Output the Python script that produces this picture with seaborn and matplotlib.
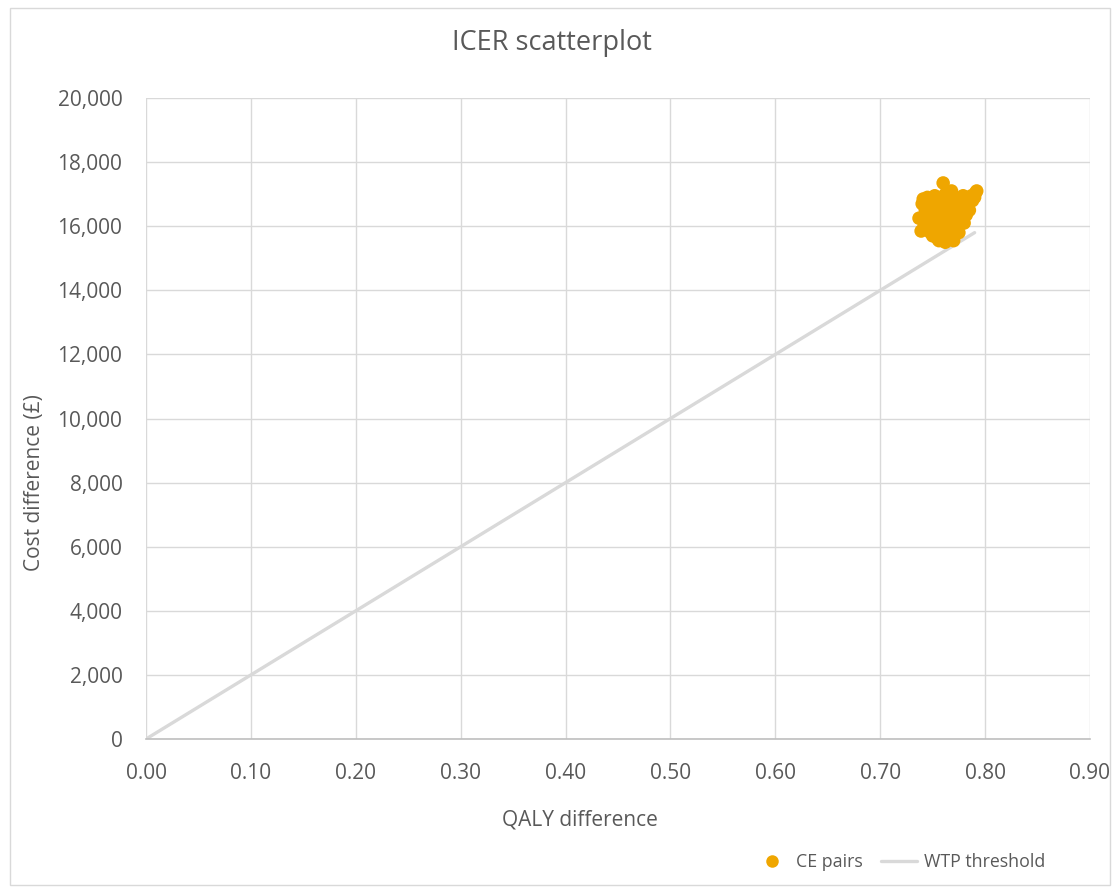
import matplotlib
matplotlib.use("Agg")
import matplotlib.pyplot as plt
import seaborn as sns
import pandas as pd
from matplotlib.patches import Rectangle
from matplotlib.lines import Line2D
from matplotlib.ticker import FuncFormatter, MultipleLocator

# Probabilistic sensitivity analysis: incremental QALYs and costs per simulation
qaly_diff = [0.760, 0.768, 0.752, 0.745, 0.740, 0.737, 0.742, 0.748, 0.755, 0.762,
             0.770, 0.775, 0.780, 0.785, 0.790, 0.792, 0.788, 0.783, 0.778, 0.772,
             0.765, 0.758, 0.750, 0.744, 0.739, 0.746, 0.753, 0.761, 0.767, 0.774,
             0.781, 0.786, 0.791, 0.776, 0.769, 0.763, 0.756, 0.749, 0.743, 0.751,
             0.759, 0.766, 0.773, 0.779, 0.784, 0.757, 0.764, 0.771, 0.754, 0.747,
             0.741, 0.762, 0.768, 0.775, 0.756, 0.760, 0.752, 0.770, 0.765, 0.758,
             0.744, 0.749, 0.755, 0.771, 0.777, 0.782, 0.787, 0.763, 0.757, 0.766,
             0.748, 0.779, 0.753, 0.769, 0.761]
cost_diff = [17350, 17100, 16950, 16900, 16700, 16250, 16000, 15800, 15600, 15500,
             15550, 15800, 16100, 16500, 16900, 17100, 16800, 16650, 16400, 16200,
             16100, 15900, 15700, 15900, 15850, 16300, 16500, 16700, 16900, 16750,
             16600, 16900, 17050, 16300, 16000, 15700, 15550, 16100, 16500, 16800,
             16600, 16400, 16200, 16850, 16650, 16250, 16500, 16700, 15950, 16600,
             16850, 17000, 16300, 16450, 16100, 16350, 16250, 15750, 16000, 16700,
             16450, 16050, 16800, 16550, 16100, 16350, 16950, 15850, 15650, 16600,
             15950, 16950, 16350, 16250, 15600]

# Willingness-to-pay threshold line (£20,000 per QALY)
wtp_qaly = [0.0, 0.79]
wtp_cost = [0, 15800]

pairs = pd.DataFrame({"qaly": qaly_diff, "cost": cost_diff})
wtp = pd.DataFrame({"qaly": wtp_qaly, "cost": wtp_cost})

sns.set_theme(style="white")
plt.rcParams["font.family"] = ["Open Sans", "DejaVu Sans"]

point_color = "#EFA600"
line_color = "#D9D9D9"
grid_color = "#D9D9D9"
text_color = "#595959"

fig = plt.figure(figsize=(11.2, 8.88), dpi=100)
ax = fig.add_axes([0.1304, 0.1678, 0.8428, 0.7218])

sns.lineplot(data=wtp, x="qaly", y="cost", ax=ax, color=line_color, linewidth=2.4,
             zorder=2, legend=False)
sns.scatterplot(data=pairs, x="qaly", y="cost", ax=ax, color=point_color, s=95,
                edgecolor="none", zorder=3, legend=False)

ax.set_xlim(0, 0.9)
ax.set_ylim(0, 20000)
ax.xaxis.set_major_locator(MultipleLocator(0.1))
ax.yaxis.set_major_locator(MultipleLocator(2000))
ax.xaxis.set_major_formatter(FuncFormatter(lambda v, p: f"{v:.2f}"))
ax.yaxis.set_major_formatter(FuncFormatter(lambda v, p: f"{v:,.0f}"))
ax.grid(True, color=grid_color, linewidth=1.0, zorder=0)
ax.set_axisbelow(True)
for side in ["left", "right", "top"]:
    ax.spines[side].set_visible(False)
ax.spines["bottom"].set_color("#BFBFBF")
ax.spines["bottom"].set_linewidth(1.2)
ax.tick_params(axis="x", length=0, labelsize=15, labelcolor=text_color, pad=17)
ax.tick_params(axis="y", length=0, labelsize=15, labelcolor=text_color, pad=17)

ax.set_xlabel("QALY difference", fontsize=15, color=text_color, va="center")
ax.xaxis.set_label_coords(0.46, -0.126)
ax.set_ylabel("Cost difference (£)", fontsize=15, color=text_color, va="center")
ax.yaxis.set_label_coords(-0.1185, 0.40)
fig.text(0.493, 0.952, "ICER scatterplot", ha="center", va="center",
         fontsize=19.5, color=text_color)

handles = [
    Line2D([0], [0], marker="o", linestyle="none", markersize=9,
           markerfacecolor=point_color, markeredgecolor="none"),
    Line2D([0], [0], color=line_color, linewidth=2.4),
]
fig.legend(handles, ["CE pairs", "WTP threshold"], ncol=2, frameon=False,
           loc="center", bbox_to_anchor=(0.803, 0.029), fontsize=12.8,
           labelcolor=text_color, handlelength=2.0, handletextpad=0.4,
           columnspacing=1.0)

# thin frame around the chart area
fig.patches.append(Rectangle((0.009, 0.003), 0.982, 0.988, transform=fig.transFigure,
                             fill=False, edgecolor="#D9D9D9", linewidth=1.0))

fig.savefig("out.png", dpi=100, facecolor="white")
